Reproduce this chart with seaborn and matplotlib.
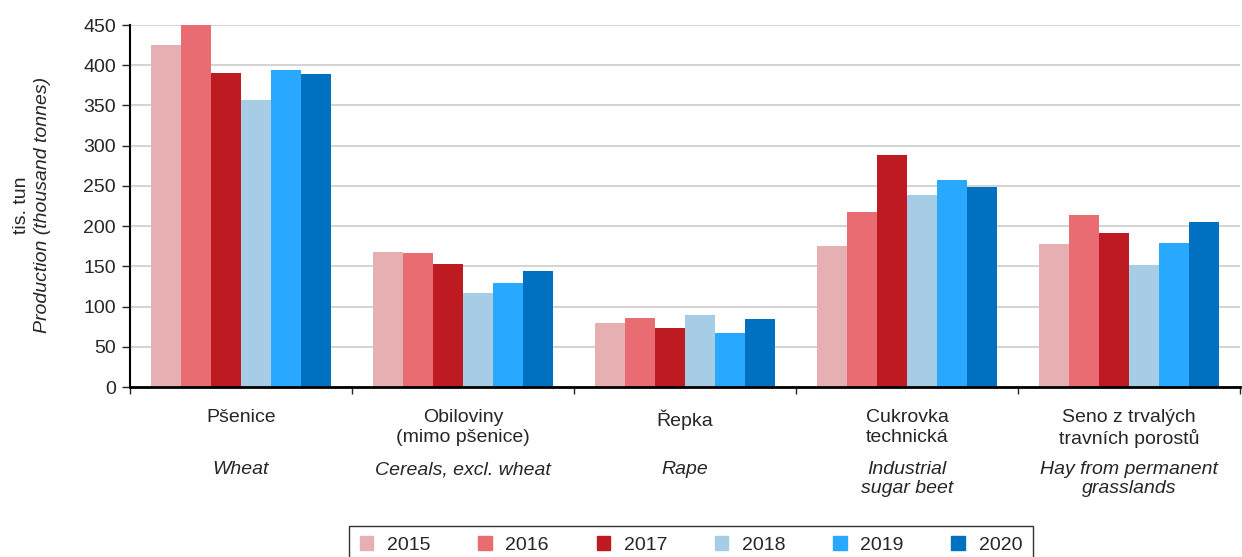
import pandas as pd
import matplotlib.pyplot as plt
import matplotlib.transforms as mtransforms
import seaborn as sns

# data
categories_cz = ['Pšenice', 'Obiloviny\n(mimo pšenice)', 'Řepka', 'Cukrovka\ntechnická',
                 'Seno z trvalých\ntravních porostů']
categories_en = ['Wheat', 'Cereals, excl. wheat', 'Rape', 'Industrial\nsugar beet',
                 'Hay from permanent\ngrasslands']
years = ['2015', '2016', '2017', '2018', '2019', '2020']
v2015 = [425, 168, 80, 175, 178]
v2016 = [450, 166, 86, 217, 214]
v2017 = [390, 153, 73, 289, 191]
v2018 = [357, 117, 89, 239, 152]
v2019 = [394, 129, 67, 257, 179]
v2020 = [389, 144, 84, 249, 205]
colors = ['#E6AFB2', '#EA6C73', '#BE1A21', '#A6CCE6', '#29A8FF', '#0070C0']

rows = []
for year, vals in zip(years, [v2015, v2016, v2017, v2018, v2019, v2020]):
    for cat, v in zip(categories_cz, vals):
        rows.append({'category': cat, 'year': year, 'value': v})
df = pd.DataFrame(rows)

sns.set_style('white')
plt.rcParams['font.family'] = ['Liberation Sans', 'DejaVu Sans']
plt.rcParams['font.size'] = 14

fig = plt.figure(figsize=(12.42, 5.57), dpi=100)
ax = fig.add_axes([130 / 1242, 1 - 387 / 557, 1110 / 1242, 362 / 557])

sns.barplot(data=df, x='category', y='value', hue='year', order=categories_cz,
            hue_order=years, palette=colors, width=0.81, saturation=1,
            edgecolor='none', ax=ax, legend=True)

ax.set_ylim(0, 450)
ax.set_xlim(-0.5, 4.5)
ax.set_yticks(range(0, 451, 50))
ax.yaxis.grid(True, color='#d0d0d0', linewidth=1.3)
ax.set_axisbelow(True)
for s in ['top', 'right']:
    ax.spines[s].set_visible(False)
ax.spines['left'].set_color('black')
ax.spines['bottom'].set_color('black')
ax.spines['left'].set_linewidth(1.5)
ax.spines['bottom'].set_linewidth(2)
ax.tick_params(axis='y', direction='out', length=6, width=1, left=True, labelsize=14, pad=4)
ax.tick_params(axis='x', which='major', length=0, labelsize=14, pad=16)
ax.set_xticks([i - 0.5 for i in range(6)], minor=True)
ax.tick_params(axis='x', which='minor', direction='out', length=5, width=1, bottom=True)
ax.set_xlabel('')
ax.set_ylabel('')

trans = mtransforms.blended_transform_factory(ax.transData, ax.transAxes)
for i, lab in enumerate(categories_en):
    ax.text(i, -0.205, lab, transform=trans, ha='center', va='top',
            fontsize=14, style='italic', linespacing=1.15)

fig.text(21 / 1242, 1 - 205 / 557, 'tis. tun', rotation=90, ha='center', va='center', fontsize=14)
fig.text(43 / 1242, 1 - 205 / 557, 'Production (thousand tonnes)', rotation=90,
         ha='center', va='center', fontsize=14, style='italic')

ax.get_legend().remove()
handles = [plt.Rectangle((0, 0), 1, 1, color=c) for c in colors]
leg = fig.legend(handles, years, loc='upper center', bbox_to_anchor=(691 / 1242, 1 - 516 / 557),
                 ncol=6, frameon=True, fontsize=14, handlelength=0.7, handleheight=0.7,
                 columnspacing=2.45, handletextpad=0.7, borderpad=0.55, fancybox=False)
leg.get_frame().set_edgecolor('black')
leg.get_frame().set_linewidth(1)

fig.savefig('out.png', dpi=100)
